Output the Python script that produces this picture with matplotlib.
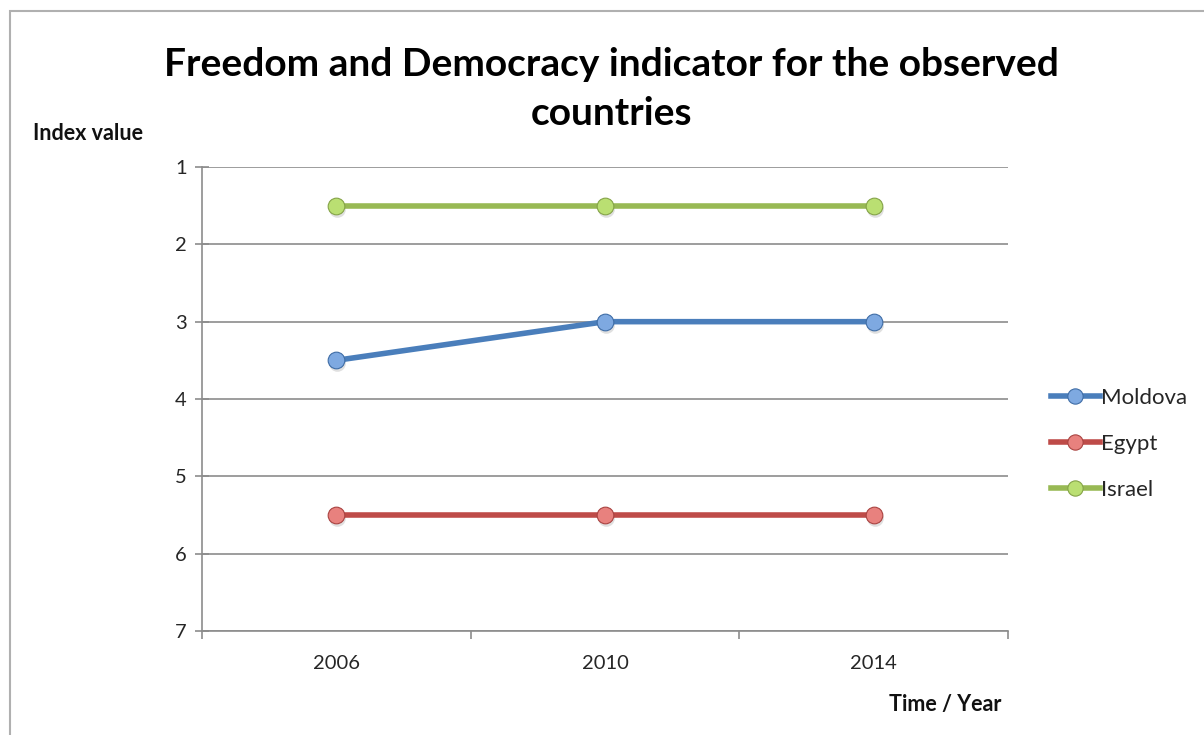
import matplotlib
matplotlib.use('Agg')
import matplotlib.pyplot as plt
from matplotlib.patches import Rectangle
from matplotlib.lines import Line2D
from matplotlib.transforms import ScaledTranslation

years = ['2006', '2010', '2014']
moldova = [3.5, 3, 3]
egypt = [5.5, 5.5, 5.5]
israel = [1.5, 1.5, 1.5]

series = [
	('Moldova', moldova, '#4A7EBB', '#7EA9E1', '#3F6DA6'),
	('Egypt', egypt, '#BE4B48', '#E8817E', '#A94341'),
	('Israel', israel, '#98B954', '#BADF72', '#85A348'),
]

plt.rcParams['font.family'] = ['Lato', 'DejaVu Sans']

fig = plt.figure(figsize=(12.04, 7.35), dpi=100)
# outer frame of the chart area
fig.patches.append(Rectangle((10/1204, -0.05), 1.2, 1 - 11/735 + 0.05,
	transform=fig.transFigure, fill=False, edgecolor='#b0b0b0', lw=1.5))

ax = fig.add_axes([202/1204, 104/735, 806/1204, 464/735])
x = list(range(len(years)))
shadow = ax.transData + ScaledTranslation(1/100, -3/100, fig.dpi_scale_trans)

for name, vals, line_c, face_c, edge_c in series:
	# soft drop shadow under the markers
	ax.plot(x, vals, 'o', ms=12, color='#000000', alpha=0.12, mec='none',
		transform=shadow, zorder=3)
	ax.plot(x, vals, '-', color=line_c, lw=4, solid_capstyle='round', zorder=4)
	ax.plot(x, vals, 'o', ms=12, mfc=face_c, mec=edge_c, mew=0.8, zorder=5)

ax.set_ylim(7, 1)
ax.set_xlim(-0.5, 2.5)
ax.set_yticks(range(1, 8))
ax.yaxis.grid(True, color='#8c8c8c', lw=1.2)
ax.set_axisbelow(True)
ax.tick_params(axis='y', direction='inout', length=10, width=1.2, color='#8c8c8c',
	labelsize=14.5, labelcolor='#262626', pad=6)

ax.set_xticks([-0.5, 0.5, 1.5, 2.5])
ax.set_xticklabels([])
ax.set_xticks(x, minor=True)
ax.set_xticklabels(years, minor=True)
ax.tick_params(axis='x', which='major', direction='out', length=6, width=1.2, color='#8c8c8c')
ax.tick_params(axis='x', which='minor', length=0, labelsize=14.5, labelcolor='#262626', pad=17)

for side in ['top', 'right']:
	ax.spines[side].set_visible(False)
for side in ['left', 'bottom']:
	ax.spines[side].set_color('#8c8c8c')
	ax.spines[side].set_linewidth(1.2)

fig.text(611/1204, 1 - 89/735, 'Freedom and Democracy indicator for the observed\ncountries',
	ha='center', va='center', fontsize=28, fontweight='bold', linespacing=1.5, color='#000000')
fig.text(88/1204, 1 - 134/735, 'Index value', ha='center', va='center',
	fontsize=15.5, fontweight='bold', color='#111111')
fig.text(945/1204, 1 - 705/735, 'Time / Year', ha='center', va='center',
	fontsize=15.5, fontweight='bold', color='#111111')

leg_handles = [Line2D([], [], color=s[2], lw=4, marker='o', ms=11, mfc=s[3], mec=s[4], mew=0.8)
	for s in series]
fig.legend(leg_handles, [s[0] for s in series], loc='center left',
	bbox_to_anchor=(1031/1204, 1 - 444/735), frameon=False, fontsize=16,
	handlelength=2.2, handletextpad=0.05, labelspacing=1.18, labelcolor='#262626')

fig.savefig('out.png', dpi=100)
